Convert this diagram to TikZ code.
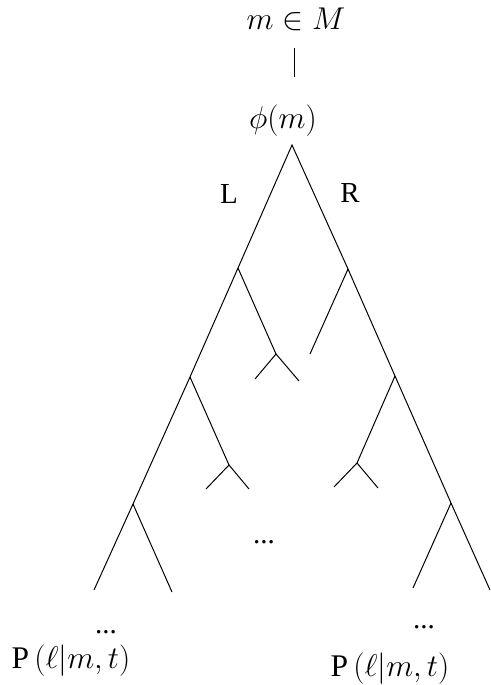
\RequirePackage{fix-cm}
\documentclass[tikz,border=0pt]{standalone}
\usepackage{fontspec}
\setmainfont{Liberation Serif}
\begin{document}
\begin{tikzpicture}[x=1pt,y=-1pt,
  txt/.style={anchor=base,inner sep=0pt,font=\fontsize{29}{35}\selectfont},
  mtxt/.style={anchor=base,inner sep=0pt,font=\fontsize{31.5}{38}\selectfont},
  branch/.style={line width=1pt,line join=miter,line cap=butt}]
\useasboundingbox (0,0) rectangle (490,685);
% texts
\node[mtxt] (top) at (296,30) {$m\in M$};
\node[mtxt] (phi) at (283,128) {$\phi(m)$};
\node[txt] (lblL) at (229,203) {L};
\node[txt] (lblR) at (350,202) {R};
\node[txt] (middots) at (264,543) {...};
\node[txt] (ldots) at (106,633) {...};
\node[txt] (rdots) at (424,628) {...};
\node[mtxt] (lP) at (71,668) {P$\,(\ell|m,t)$};
\node[mtxt] (rP) at (390,676) {P$\,(\ell|m,t)$};
% connector top -> phi
\coordinate (vtop) at (294,48);
\coordinate (vbot) at (294,77);
\draw[branch] (vtop) -- (vbot);
% tree points
\coordinate (A) at (292,145);
\coordinate (L1) at (238,268);
\coordinate (L2) at (190,377);
\coordinate (L3) at (133,504);
\coordinate (Lend) at (94,590);
\coordinate (L3b) at (172,592);
\coordinate (L1b) at (276,354);
\coordinate (L1bl) at (255,379);
\coordinate (L1br) at (299,381);
\coordinate (L2b) at (229,465);
\coordinate (L2bl) at (206,489);
\coordinate (L2br) at (249,489);
\coordinate (R1) at (348,269);
\coordinate (R2) at (395,376);
\coordinate (R3) at (451,503);
\coordinate (Rend) at (490,590);
\coordinate (R3b) at (413,588);
\coordinate (R1b) at (310,354);
\coordinate (R2b) at (357,463);
\coordinate (R2bl) at (334,487);
\coordinate (R2br) at (378,488);
% main
\draw[branch] (Lend) -- (L3) -- (L2) -- (L1) -- (A) -- (R1) -- (R2) -- (R3) -- (Rend);
% sub branches
\draw[branch] (L1) -- (L1b);
\draw[branch] (L1bl) -- (L1b) -- (L1br);
\draw[branch] (L2) -- (L2b);
\draw[branch] (L2bl) -- (L2b) -- (L2br);
\draw[branch] (L3) -- (L3b);
\draw[branch] (R1) -- (R1b);
\draw[branch] (R2) -- (R2b);
\draw[branch] (R2bl) -- (R2b) -- (R2br);
\draw[branch] (R3) -- (R3b);
\end{tikzpicture}
\end{document}
